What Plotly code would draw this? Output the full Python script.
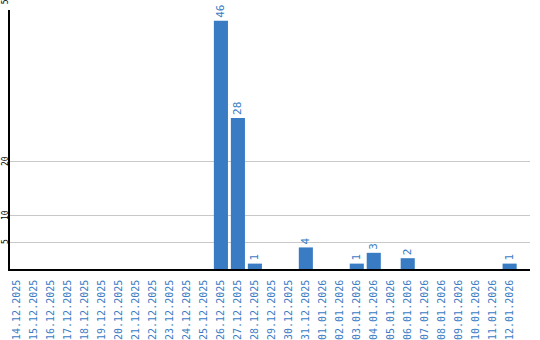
import plotly.graph_objects as go

dates = ["14.12.2025","15.12.2025","16.12.2025","17.12.2025","18.12.2025","19.12.2025",
         "20.12.2025","21.12.2025","22.12.2025","23.12.2025","24.12.2025","25.12.2025",
         "26.12.2025","27.12.2025","28.12.2025","29.12.2025","30.12.2025","31.12.2025",
         "01.01.2026","02.01.2026","03.01.2026","04.01.2026","05.01.2026","06.01.2026",
         "07.01.2026","08.01.2026","09.01.2026","10.01.2026","11.01.2026","12.01.2026"]
counts = [0,0,0,0,0,0,0,0,0,0,0,0,46,28,1,0,0,4,0,0,1,3,0,2,0,0,0,0,0,1]
ytick_vals = [5, 10, 20, 50]

blue = "#3a7cc4"
ymax = 48
labels = [str(v) if v > 0 else "" for v in counts]

fig = go.Figure(go.Bar(
    x=list(range(len(dates))), y=counts, marker_color=blue, marker_line_width=0,
    text=labels, textposition="outside", textangle=-90,
    textfont=dict(family="DejaVu Sans Mono", size=11, color=blue),
    cliponaxis=False,
))
for v in ytick_vals:
    fig.add_annotation(
        x=0, xref="paper", y=v / ymax, yref="paper", text=str(v), showarrow=False,
        textangle=-90, xanchor="center", yanchor="middle", xshift=-5,
        font=dict(family="DejaVu Sans Mono", size=8, color="black"),
    )
fig.update_layout(
    width=540, height=340, margin=dict(l=10, r=10, t=10, b=71, autoexpand=False),
    plot_bgcolor="white", paper_bgcolor="white", bargap=0.17, showlegend=False,
)
fig.update_xaxes(
    tickmode="array", tickvals=list(range(len(dates))), ticktext=dates,
    tickangle=-90, tickfont=dict(family="DejaVu Sans Mono", size=10, color=blue),
    range=[-0.42, 30.2], showline=True, linecolor="black", linewidth=1.5,
    showgrid=False, ticks="outside", ticklen=5, tickcolor="rgba(0,0,0,0)",
    automargin=False,
)
fig.update_yaxes(
    tickmode="array", tickvals=ytick_vals[:3], showticklabels=False,
    range=[0, ymax], showline=True, linecolor="black", linewidth=1.5,
    showgrid=True, gridcolor="#c8c8c8", gridwidth=1, zeroline=False, ticks="",
    automargin=False,
)
fig.write_html("out.html")
